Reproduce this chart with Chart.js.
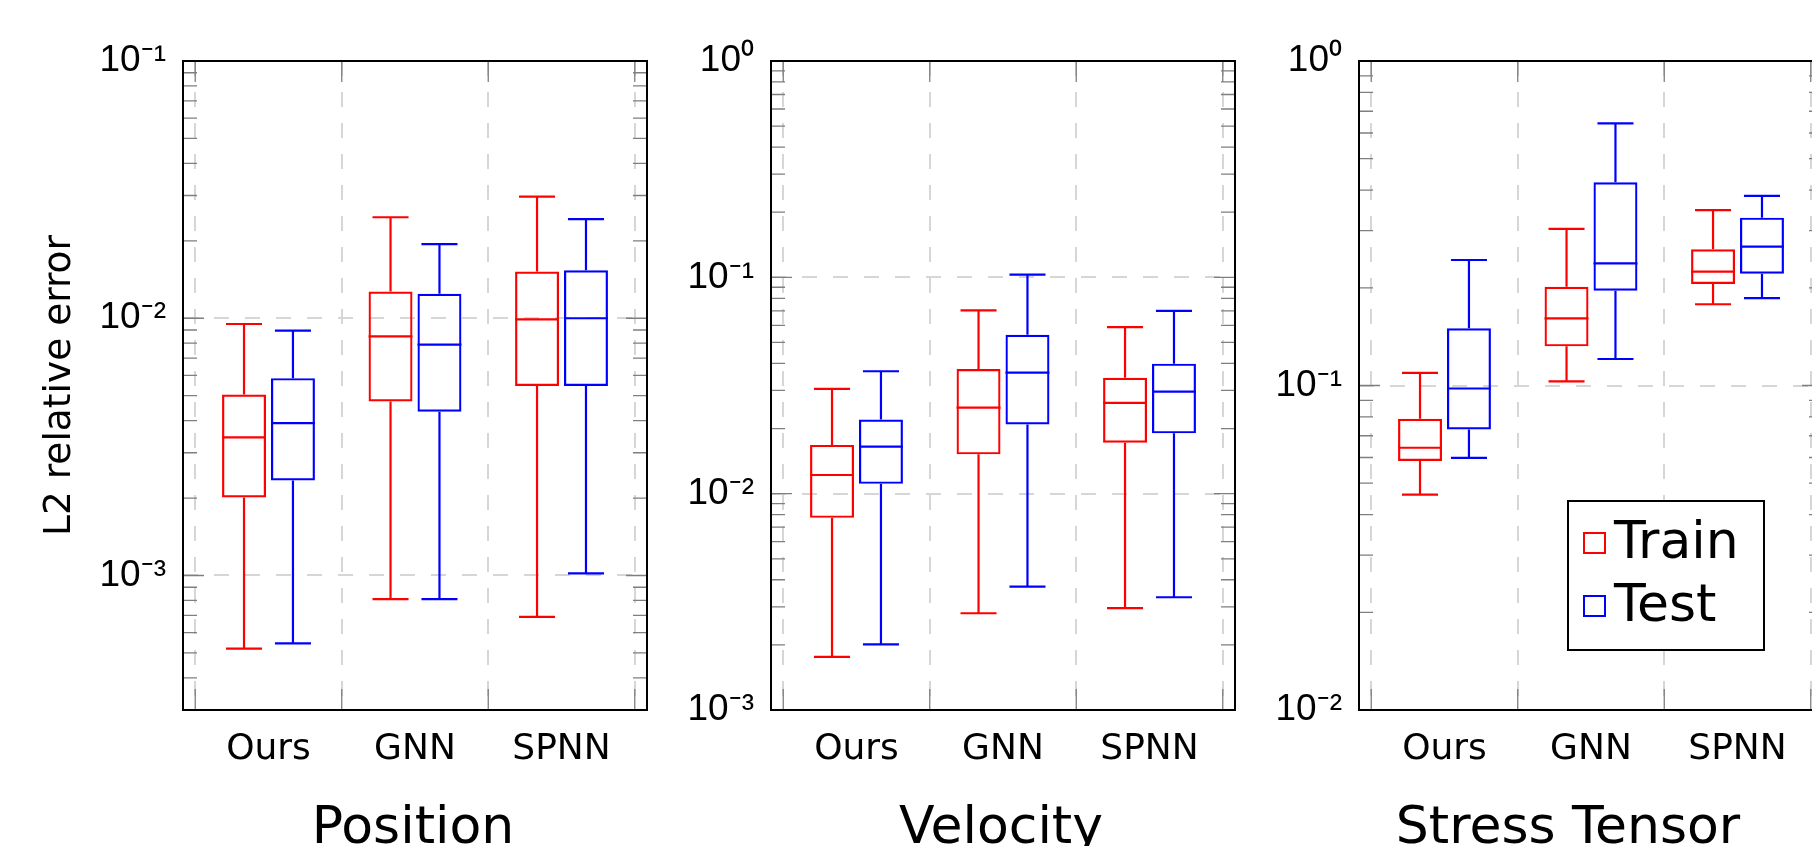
<!DOCTYPE html>
<html>
<head>
<meta charset="utf-8">
<title>L2 relative error</title>
<script src="https://cdn.jsdelivr.net/npm/chart.js@4.4.1/dist/chart.umd.min.js"></script>
<style>
    html, body { margin: 0; padding: 0; background: #fff; overflow: hidden; }
    body { width: 1812px; height: 846px; position: relative; }
    .panel { position: absolute; top: 0; width: 651px; height: 846px; }
</style>
</head>
<body>
<div class="panel" style="left:0px"><canvas id="position-chart"></canvas></div>
<div class="panel" style="left:588px"><canvas id="velocity-chart"></canvas></div>
<div class="panel" style="left:1176px"><canvas id="stress-chart"></canvas></div>
<script>
const methods = ['Ours', 'GNN', 'SPNN'];
const seriesNames = ['Train', 'Test'];
const seriesColors = ['#ff0000', '#0000ff'];

// box stats per method: [min, q1, median, q3, max]
const positionTrain = [[5.2e-4, 2.01e-3, 3.44e-3, 5.05e-3, 9.5e-3], [8.1e-4, 4.75e-3, 8.5e-3, 1.27e-2, 2.47e-2], [6.9e-4, 5.45e-3, 9.9e-3, 1.52e-2, 2.97e-2]];
const positionTest = [[5.45e-4, 2.34e-3, 3.91e-3, 5.85e-3, 8.95e-3], [8.1e-4, 4.33e-3, 7.9e-3, 1.245e-2, 1.94e-2], [1.02e-3, 5.45e-3, 1.0e-2, 1.535e-2, 2.43e-2]];
const velocityTrain = [[1.76e-3, 7.73e-3, 1.22e-2, 1.68e-2, 3.05e-2], [2.8e-3, 1.52e-2, 2.5e-2, 3.77e-2, 7.03e-2], [2.96e-3, 1.72e-2, 2.63e-2, 3.43e-2, 5.89e-2]];
const velocityTest = [[2.01e-3, 1.11e-2, 1.65e-2, 2.2e-2, 3.68e-2], [3.72e-3, 2.09e-2, 3.63e-2, 5.43e-2, 0.103], [3.32e-3, 1.9e-2, 2.96e-2, 3.99e-2, 7.0e-2]];
const stressTrain = [[0.0461, 0.0585, 0.0643, 0.079, 0.1094], [0.103, 0.132, 0.161, 0.2015, 0.304], [0.178, 0.2054, 0.2245, 0.263, 0.347]];
const stressTest = [[0.0598, 0.0732, 0.0979, 0.150, 0.2436], [0.1207, 0.196, 0.238, 0.4227, 0.642], [0.186, 0.221, 0.268, 0.329, 0.384]];

const positionTicks = [1e-3, 1e-2, 1e-1];
const positionTickLabels = ['10\u207B\u00B3', '10\u207B\u00B2', '10\u207B\u00B9'];
const velocityTicks = [1e-3, 1e-2, 1e-1, 1];
const velocityTickLabels = ['10\u207B\u00B3', '10\u207B\u00B2', '10\u207B\u00B9', '10\u2070'];
const stressTicks = [1e-2, 1e-1, 1];
const stressTickLabels = ['10\u207B\u00B2', '10\u207B\u00B9', '10\u2070'];

Chart.defaults.font.family = 'DejaVu Sans';
Chart.defaults.color = '#000';

// whiskers and median line on top of the floating-bar boxes
const whiskerPlugin = {
    id: 'whiskers',
    afterDatasetsDraw(chart) {
        const ctx = chart.ctx;
        const y = chart.scales.y;
        chart.data.datasets.forEach((ds, d) => {
            chart.getDatasetMeta(d).data.forEach((bar, j) => {
                const s = ds.stats[j];
                const half = bar.width / 2;
                const cap = bar.width * 0.41;
                const yMin = y.getPixelForValue(s[0]);
                const yQ1 = y.getPixelForValue(s[1]);
                const yMed = y.getPixelForValue(s[2]);
                const yQ3 = y.getPixelForValue(s[3]);
                const yMax = y.getPixelForValue(s[4]);
                ctx.save();
                ctx.strokeStyle = ds.borderColor;
                ctx.lineWidth = ds.borderWidth;
                ctx.beginPath();
                ctx.moveTo(bar.x, yQ3); ctx.lineTo(bar.x, yMax);
                ctx.moveTo(bar.x - cap, yMax); ctx.lineTo(bar.x + cap, yMax);
                ctx.moveTo(bar.x, yQ1); ctx.lineTo(bar.x, yMin);
                ctx.moveTo(bar.x - cap, yMin); ctx.lineTo(bar.x + cap, yMin);
                ctx.moveTo(bar.x - half, yMed); ctx.lineTo(bar.x + half, yMed);
                ctx.stroke();
                ctx.restore();
            });
        });
    }
};

// axis box with inward tick marks
const framePlugin = {
    id: 'frame',
    beforeDatasetsDraw(chart) {
        const {ctx, chartArea: a, scales} = chart;
        const x = scales.x, y = scales.y;
        ctx.save();
        ctx.strokeStyle = '#7f7f7f';
        ctx.lineWidth = 1.3;
        ctx.beginPath();
        const lo = Math.floor(Math.log10(y.min));
        const hi = Math.ceil(Math.log10(y.max));
        for (let e = lo; e <= hi; e++) {
            for (let m = 1; m <= 9; m++) {
                const v = m * Math.pow(10, e);
                if (v < y.min * 0.999 || v > y.max * 1.001) continue;
                const py = y.getPixelForValue(v);
                const len = m === 1 ? 21 : 14;
                ctx.moveTo(a.left, py); ctx.lineTo(a.left + len, py);
                ctx.moveTo(a.right, py); ctx.lineTo(a.right - len, py);
            }
        }
        for (let k = 0; k <= methods.length; k++) {
            const px = x.getPixelForValue(k + 0.5);
            ctx.moveTo(px, a.bottom); ctx.lineTo(px, a.bottom - 21);
            ctx.moveTo(px, a.top); ctx.lineTo(px, a.top + 21);
        }
        ctx.stroke();
        ctx.restore();
    },
    afterDraw(chart) {
        const {ctx, chartArea: a} = chart;
        ctx.save();
        ctx.strokeStyle = '#000';
        ctx.lineWidth = 2;
        ctx.strokeRect(a.left, a.top, a.right - a.left, a.bottom - a.top);
        ctx.restore();
    }
};

const captionPlugin = {
    id: 'caption',
    afterDraw(chart, args, opts) {
        const {ctx, chartArea: a} = chart;
        ctx.save();
        ctx.font = '52px "DejaVu Sans"';
        ctx.fillStyle = '#000';
        ctx.textAlign = 'center';
        ctx.textBaseline = 'alphabetic';
        ctx.fillText(opts.text, (a.left + a.right) / 2 + opts.dx, opts.baseline);
        ctx.restore();
    }
};

const boxLegendPlugin = {
    id: 'boxLegend',
    afterDraw(chart, args, opts) {
        if (!opts.display) return;
        const {ctx, chartArea: a} = chart;
        const left = a.left + opts.left, top = a.top + opts.top;
        ctx.save();
        ctx.fillStyle = '#fff';
        ctx.fillRect(left, top, opts.width, opts.height);
        ctx.strokeStyle = '#000';
        ctx.lineWidth = 2;
        ctx.strokeRect(left, top, opts.width, opts.height);
        ctx.font = '52px "DejaVu Sans"';
        ctx.textAlign = 'left';
        ctx.textBaseline = 'alphabetic';
        chart.data.datasets.forEach((ds, i) => {
            const base = top + 57 + i * 63;
            ctx.strokeStyle = ds.borderColor;
            ctx.strokeRect(left + 16, base - 25, 21, 20);
            ctx.fillStyle = '#000';
            ctx.fillText(ds.label, left + 46, base);
        });
        ctx.restore();
    }
};

function toBoxes(stats) {
    return stats.map((s, i) => ({x: i + 1, y: [s[1], s[3]]}));
}

function makeChart(id, train, test, ticks, tickLabels, range, caption, captionDx, withTitle, withLegend) {
    const datasets = [train, test].map((stats, i) => ({
        label: seriesNames[i],
        stats: stats,
        data: toBoxes(stats),
        borderColor: seriesColors[i],
        backgroundColor: 'rgba(0,0,0,0)',
        borderWidth: 2.2,
        borderSkipped: false,
        categoryPercentage: 0.668,
        barPercentage: 0.898
    }));
    let config = {
        type: 'bar',
        data: {datasets: datasets},
        options: {
            responsive: true,
            maintainAspectRatio: false,
            animation: false,
            events: [],
            devicePixelRatio: 1,
            layout: {padding: {top: 61, right: 4, bottom: 0, left: 0}},
            scales: {
                x: {
                    type: 'linear',
                    offset: false,
                    min: 0.4165,
                    max: 3.5835,
                    afterBuildTicks: s => { s.ticks = methods.map((m, i) => ({value: i + 1})); },
                    afterFit: s => { s.height = 136; },
                    grid: {offset: true, drawTicks: false, color: '#d6d6d6', lineWidth: 2},
                    border: {display: false, dash: [15, 16]},
                    ticks: {
                        callback: (v, i) => methods[i],
                        autoSkip: false,
                        maxRotation: 0,
                        padding: 18,
                        font: {family: 'DejaVu Sans', size: 36},
                        color: '#000'
                    }
                },
                y: {
                    type: 'logarithmic',
                    min: range[0],
                    max: range[1],
                    afterBuildTicks: s => { s.ticks = ticks.map(v => ({value: v})); },
                    afterFit: s => { s.width = 183; },
                    grid: {drawTicks: false, color: '#d6d6d6', lineWidth: 2},
                    border: {display: false, dash: [15, 16]},
                    ticks: {
                        callback: (v, i) => tickLabels[i],
                        autoSkip: false,
                        padding: 17,
                        font: {family: 'Liberation Sans', size: 37},
                        color: '#000'
                    },
                    title: {
                        display: withTitle,
                        text: 'L2 relative error',
                        font: {family: 'DejaVu Sans', size: 37.5},
                        color: '#000',
                        padding: {top: 38, bottom: 0}
                    }
                }
            },
            plugins: {
                legend: {display: false},
                tooltip: {enabled: false},
                caption: {text: caption, dx: captionDx, baseline: 843},
                boxLegend: {display: withLegend, left: 209, top: 440, width: 196, height: 149}
            }
        },
        plugins: [framePlugin, whiskerPlugin, captionPlugin, boxLegendPlugin]
    };
    let ctx = document.getElementById(id).getContext('2d');
    return new Chart(ctx, config);
}

makeChart('position-chart', positionTrain, positionTest, positionTicks, positionTickLabels, [3.08e-4, 1e-1], 'Position', -2, true, false);
makeChart('velocity-chart', velocityTrain, velocityTest, velocityTicks, velocityTickLabels, [1e-3, 1], 'Velocity', -2, false, false);
makeChart('stress-chart', stressTrain, stressTest, stressTicks, stressTickLabels, [1e-2, 1], 'Stress Tensor', -23, false, true);
</script>
</body>
</html>
